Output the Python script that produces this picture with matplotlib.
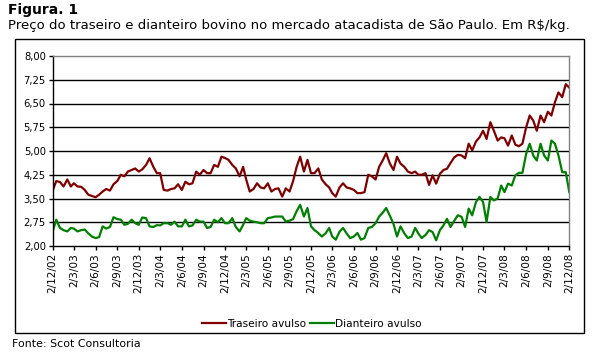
import matplotlib
matplotlib.use("Agg")
import matplotlib.pyplot as plt
from matplotlib.patches import Rectangle
import datetime as dt

plt.rcParams['font.family'] = ['DejaVu Sans']

# Semi-monthly observations from 2/12/2002 to 2/12/2008 (2nd and 17th of each month)
traseiro = [
    3.75, 4.05, 4.02, 3.88, 4.10, 3.88, 3.98, 3.88, 3.87, 3.77,
    3.62, 3.58, 3.54, 3.62, 3.72, 3.80, 3.75, 3.95, 4.05, 4.25,
    4.20, 4.35, 4.40, 4.45, 4.35, 4.42, 4.56, 4.77, 4.50, 4.30,
    4.30, 3.77, 3.75, 3.80, 3.82, 3.95, 3.77, 4.03, 3.95, 3.98,
    4.35, 4.25, 4.40, 4.30, 4.30, 4.56, 4.50, 4.82, 4.78, 4.72,
    4.56, 4.45, 4.20, 4.50, 4.10, 3.72, 3.80, 3.98, 3.85, 3.82,
    3.98, 3.72, 3.80, 3.82, 3.56, 3.82, 3.72, 4.05, 4.50, 4.82,
    4.35, 4.72, 4.30, 4.30, 4.45, 4.10, 3.95, 3.85, 3.67, 3.56,
    3.85, 3.98, 3.85, 3.82, 3.77, 3.67, 3.67, 3.70, 4.25, 4.20,
    4.10, 4.50, 4.70, 4.93, 4.60, 4.40, 4.82, 4.60, 4.50, 4.35,
    4.30, 4.35, 4.25, 4.25, 4.30, 3.93, 4.23, 3.97, 4.28, 4.40,
    4.44, 4.62, 4.80, 4.88, 4.86, 4.77, 5.23, 5.02, 5.30, 5.43,
    5.64, 5.38, 5.91, 5.64, 5.33, 5.43, 5.40, 5.17, 5.49, 5.20,
    5.15, 5.23, 5.75, 6.12, 5.96, 5.64, 6.12, 5.91, 6.24, 6.12,
    6.54, 6.85, 6.70, 7.11, 7.00,
]
dianteiro = [
    2.46, 2.83, 2.57, 2.50, 2.46, 2.57, 2.55, 2.46, 2.50, 2.52,
    2.40, 2.30, 2.25, 2.28, 2.62, 2.55, 2.60, 2.91, 2.85, 2.83,
    2.67, 2.70, 2.83, 2.72, 2.67, 2.90, 2.88, 2.62, 2.60, 2.66,
    2.65, 2.72, 2.72, 2.67, 2.77, 2.62, 2.62, 2.83, 2.62, 2.65,
    2.83, 2.77, 2.77, 2.57, 2.60, 2.83, 2.75, 2.88, 2.72, 2.72,
    2.88, 2.60, 2.46, 2.67, 2.88, 2.80, 2.77, 2.75, 2.72, 2.72,
    2.88, 2.90, 2.93, 2.93, 2.93, 2.77, 2.80, 2.85, 3.10, 3.30,
    2.93, 3.20, 2.62, 2.50, 2.41, 2.30, 2.40, 2.57, 2.30, 2.20,
    2.45, 2.57, 2.40, 2.25, 2.30, 2.41, 2.20, 2.25, 2.57, 2.60,
    2.72, 2.93, 3.05, 3.20, 2.95, 2.70, 2.30, 2.62, 2.40, 2.25,
    2.30, 2.57, 2.40, 2.25, 2.35, 2.50, 2.44, 2.18, 2.50, 2.65,
    2.86, 2.60, 2.80, 2.97, 2.92, 2.60, 3.18, 2.97, 3.39, 3.55,
    3.39, 2.76, 3.55, 3.44, 3.50, 3.91, 3.70, 3.97, 3.91, 4.23,
    4.31, 4.31, 4.91, 5.23, 4.86, 4.70, 5.23, 4.86, 4.70, 5.33,
    5.23, 4.86, 4.33, 4.33, 3.70,
]
y_ticks = [2.00, 2.75, 3.50, 4.25, 5.00, 5.75, 6.50, 7.25, 8.00]

# dates: 2nd and 17th of each month starting Dec 2002
dates = []
for i in range(len(traseiro)):
    k = i // 2
    year = 2002 + (11 + k) // 12
    month = (11 + k) % 12 + 1
    dates.append(dt.date(year, month, 2 if i % 2 == 0 else 17))

fig = plt.figure(figsize=(5.95, 3.6), dpi=100)
fig.patch.set_facecolor('white')

# outer chart border
fig.patches.append(Rectangle((0.0257, 0.075), 0.9558, 0.8175, transform=fig.transFigure,
                             fill=False, edgecolor='black', linewidth=1.0))

fig.text(8/595, 1 - 3/360, "Figura. 1", fontsize=10, fontweight='bold', va='top', ha='left')
fig.text(8/595, 1 - 19/360,
         "Preço do traseiro e dianteiro bovino no mercado atacadista de São Paulo. Em R$/kg.",
         fontsize=9.55, va='top', ha='left')
fig.text(12/595, 1 - 339/360, "Fonte: Scot Consultoria", fontsize=7.9, va='top', ha='left')

ax = fig.add_axes([52.7/595, 1 - 246/360, (569.3 - 52.7)/595, (246 - 56)/360])
ax.plot(dates, traseiro, color='#800000', lw=1.6, label='Traseiro avulso')
ax.plot(dates, dianteiro, color='#008000', lw=1.6, label='Dianteiro avulso')

ax.set_ylim(2.0, 8.0)
ax.set_yticks(y_ticks)
ax.set_yticklabels([f"{v:.2f}".replace('.', ',') for v in y_ticks], fontsize=7.2)
ax.set_xlim(dt.date(2002, 12, 2), dt.date(2008, 12, 2))

xt = []
for q in range(25):
    k = q * 3
    year = 2002 + (11 + k) // 12
    month = (11 + k) % 12 + 1
    xt.append(dt.date(year, month, 2))
ax.set_xticks(xt)
ax.set_xticklabels([f"{d.day}/{d.month}/{d.year % 100:02d}" for d in xt],
                   rotation=90, fontsize=7.6)

for v in y_ticks[1:-1]:
    ax.axhline(v, color='black', lw=1.0, zorder=0)

ax.spines['top'].set_color('#808080')
ax.spines['right'].set_color('#808080')
ax.spines['left'].set_color('black')
ax.spines['bottom'].set_color('black')
for s in ax.spines.values():
    s.set_linewidth(1.0)
ax.tick_params(axis='both', direction='out', length=3, width=1, colors='black', pad=2)

fig.legend(loc='center', bbox_to_anchor=(312/595, 1 - 324/360), ncol=2, frameon=False,
           fontsize=7.6, handlelength=2.3, handletextpad=0.1, columnspacing=0.3)

fig.savefig("out.png", dpi=100, facecolor='white')
